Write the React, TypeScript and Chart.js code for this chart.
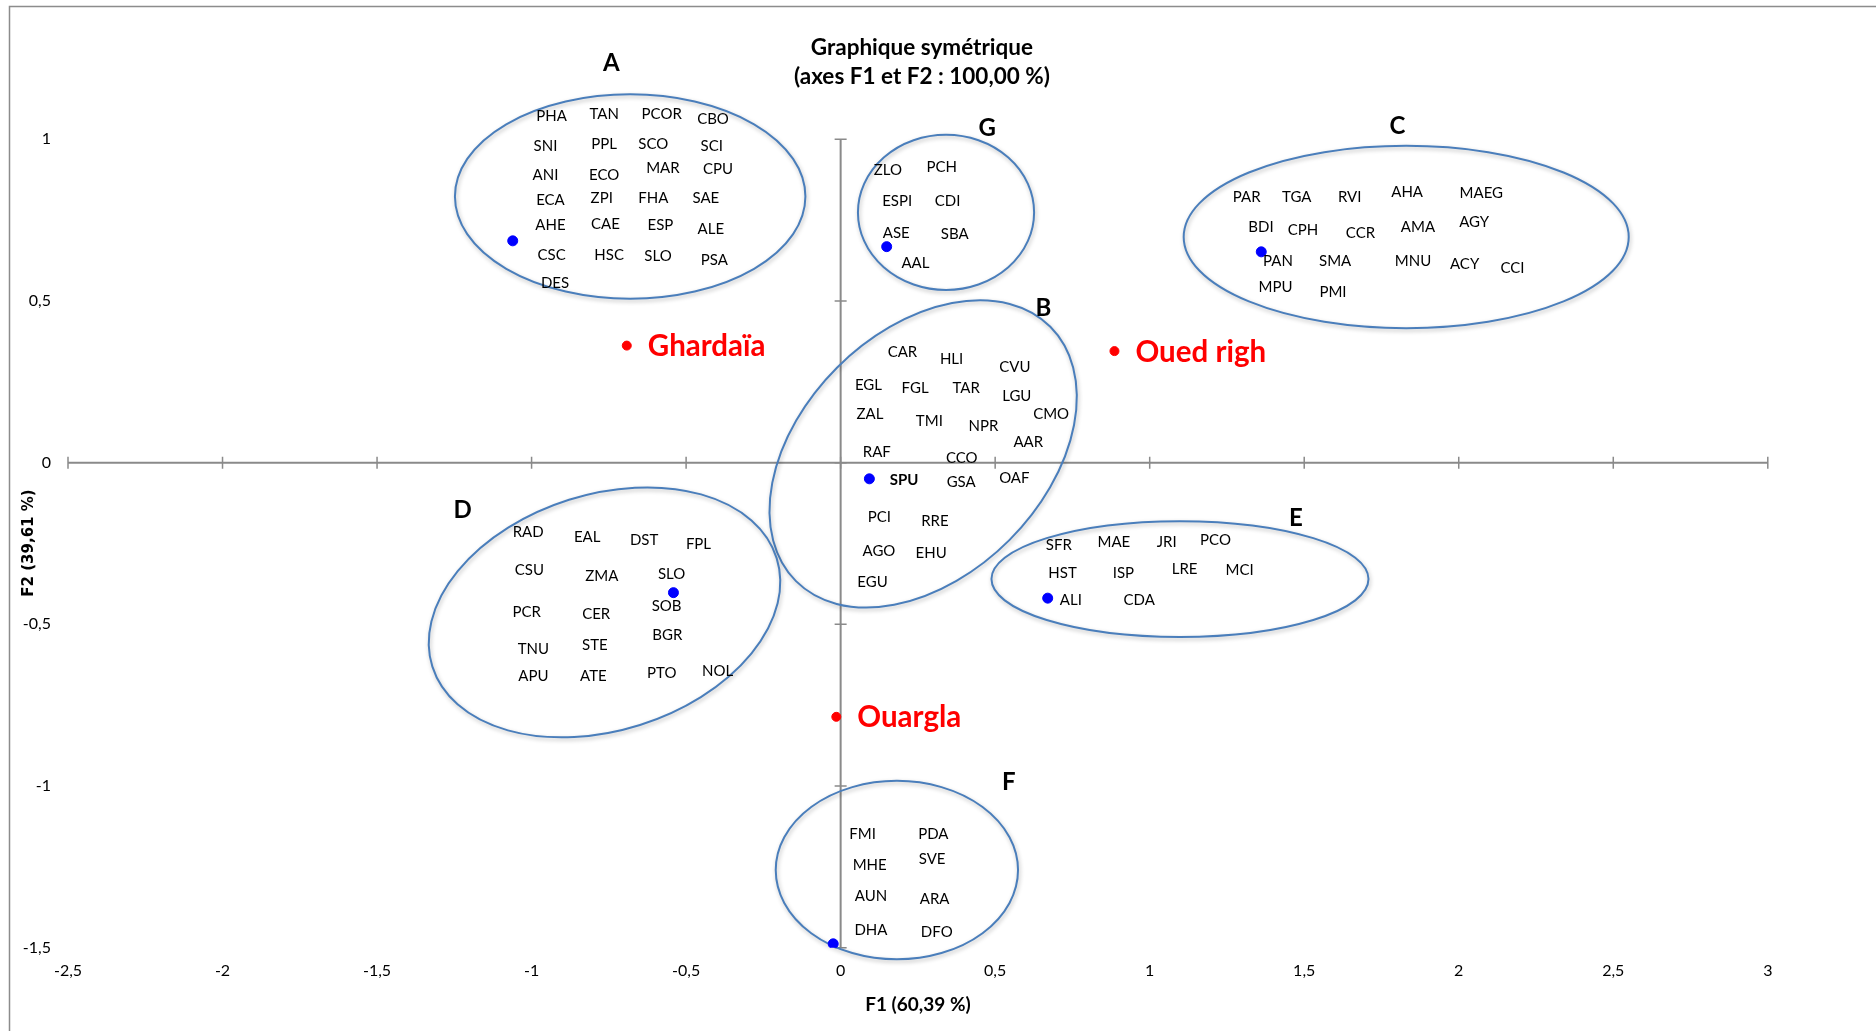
import React, { useEffect, useRef } from "react";
import { Chart, registerables } from "chart.js";

Chart.register(...registerables);

// Species codes with their coordinates on the F1 / F2 plane, one list per group.
type Code = [string, number, number];

const groupA: Code[] = [
  ["PHA", -0.935, 1.072], ["TAN", -0.765, 1.079], ["PCOR", -0.579, 1.079], ["CBO", -0.413, 1.064],
  ["SNI", -0.955, 0.979], ["PPL", -0.765, 0.987], ["SCO", -0.606, 0.987], ["SCI", -0.417, 0.979],
  ["ANI", -0.955, 0.89], ["ECO", -0.765, 0.89], ["MAR", -0.575, 0.913], ["CPU", -0.397, 0.909],
  ["ECA", -0.939, 0.813], ["ZPI", -0.773, 0.82], ["FHA", -0.606, 0.82], ["SAE", -0.436, 0.82],
  ["AHE", -0.939, 0.735], ["CAE", -0.761, 0.739], ["ESP", -0.583, 0.735], ["ALE", -0.42, 0.724],
  ["CSC", -0.935, 0.643], ["HSC", -0.749, 0.643], ["SLO", -0.591, 0.639], ["PSA", -0.409, 0.628],
  ["DES", -0.924, 0.558],
];

const groupB: Code[] = [
  ["CAR", 0.2, 0.345], ["HLI", 0.359, 0.323], ["CVU", 0.564, 0.297],
  ["EGL", 0.09, 0.24], ["FGL", 0.241, 0.233], ["TAR", 0.406, 0.233], ["LGU", 0.57, 0.207],
  ["ZAL", 0.095, 0.153], ["TMI", 0.287, 0.13], ["NPR", 0.462, 0.114], ["CMO", 0.681, 0.153],
  ["AAR", 0.607, 0.065], ["RAF", 0.117, 0.034], ["CCO", 0.392, 0.015],
  ["SPU", 0.205, -0.053], ["GSA", 0.39, -0.059], ["OAF", 0.562, -0.045],
  ["PCI", 0.125, -0.167], ["RRE", 0.305, -0.179],
  ["AGO", 0.124, -0.272], ["EHU", 0.293, -0.277], ["EGU", 0.103, -0.368],
];

const groupC: Code[] = [
  ["PAR", 1.314, 0.824], ["TGA", 1.476, 0.824], ["RVI", 1.647, 0.824], ["AHA", 1.833, 0.839], ["MAEG", 2.073, 0.835],
  ["BDI", 1.36, 0.731], ["CPH", 1.496, 0.72], ["CCR", 1.682, 0.713], ["AMA", 1.868, 0.731], ["AGY", 2.05, 0.746],
  ["PAN", 1.415, 0.624], ["SMA", 1.6, 0.624], ["MNU", 1.852, 0.624], ["ACY", 2.019, 0.617], ["CCI", 2.174, 0.602],
  ["MPU", 1.407, 0.546], ["PMI", 1.593, 0.528],
];

const groupD: Code[] = [
  ["RAD", -1.011, -0.213], ["EAL", -0.82, -0.229], ["DST", -0.636, -0.237], ["FPL", -0.46, -0.251],
  ["CSU", -1.007, -0.332], ["ZMA", -0.773, -0.349], ["SLO", -0.547, -0.343],
  ["PCR", -1.016, -0.461], ["CER", -0.791, -0.468], ["SOB", -0.563, -0.443],
  ["BGR", -0.561, -0.533], ["TNU", -0.994, -0.574], ["STE", -0.795, -0.564],
  ["APU", -0.994, -0.66], ["ATE", -0.8, -0.66], ["PTO", -0.579, -0.649], ["NOL", -0.398, -0.644],
];

const groupE: Code[] = [
  ["SFR", 0.706, -0.253], ["MAE", 0.884, -0.245], ["JRI", 1.055, -0.245], ["PCO", 1.213, -0.238],
  ["HST", 0.718, -0.341], ["ISP", 0.915, -0.341], ["LRE", 1.113, -0.327], ["MCI", 1.291, -0.33],
  ["ALI", 0.745, -0.423], ["CDA", 0.966, -0.423],
];

const groupF: Code[] = [
  ["FMI", 0.071, -1.148], ["PDA", 0.3, -1.148],
  ["MHE", 0.094, -1.244], ["SVE", 0.296, -1.225],
  ["AUN", 0.098, -1.34], ["ARA", 0.304, -1.348],
  ["DHA", 0.098, -1.444], ["DFO", 0.311, -1.451],
];

const groupG: Code[] = [
  ["ZLO", 0.153, 0.905], ["PCH", 0.327, 0.916],
  ["ESPI", 0.183, 0.809], ["CDI", 0.346, 0.809],
  ["ASE", 0.18, 0.713], ["SBA", 0.369, 0.709],
  ["AAL", 0.242, 0.62],
];

const boldCodes = ["SPU"];

// Group letters and where they sit.
const groupLetters = ["A", "B", "C", "D", "E", "F", "G"];
const letterF1 = [-0.742, 0.656, 1.802, -1.223, 1.473, 0.544, 0.474];
const letterF2 = [1.238, 0.481, 1.042, -0.144, -0.168, -0.985, 1.038];

// Group outlines: centre (F1, F2), semi-axes (major in F1 units, minor in F2 units), tilt in degrees.
const outlineF1 = [-0.681, 0.267, 1.83, -0.764, 1.098, 0.182, 0.341];
const outlineF2 = [0.823, 0.027, 0.698, -0.463, -0.36, -1.26, 0.774];
const outlineMajor = [0.567, 0.582, 0.72, 0.584, 0.61, 0.392, 0.285];
const outlineMinor = [0.316, 0.377, 0.282, 0.365, 0.179, 0.276, 0.24];
const outlineTilt = [0, -45, 0, -17.5, 0, 0, 0];

// Relevés (blue) and regions (red).
const sampleF1 = [-1.061, 0.093, 1.361, -0.541, 0.67, -0.024, 0.149];
const sampleF2 = [0.686, -0.05, 0.652, -0.402, -0.419, -1.488, 0.668];

const siteNames = ["Ghardaïa", "Oued righ", "Ouargla"];
const siteF1 = [-0.692, 0.886, -0.014];
const siteF2 = [0.362, 0.345, -0.786];

const titleLines = ["Graphique symétrique", "(axes F1 et F2 : 100,00 %)"];
const xTitle = "F1 (60,39 %)";
const yTitle = "F2 (39,61 %)";

const F1_MIN = -2.5;
const F1_MAX = 3;
const F2_MIN = -1.5;
const F2_MAX = 1;
const STEP = 0.5;

const SANS = 'Lato, "Open Sans", sans-serif';
const AXIS_GREY = "#8a8a8a";

const fmt = (v: number) => String(Math.round(v * 100) / 100).replace(".", ",");

function capText(ctx: CanvasRenderingContext2D, text: string, x: number, y: number, size: number) {
  // centre the capitals vertically on y
  ctx.fillText(text, x, y + size * 0.36);
}

const decorations = {
  id: "decorations",
  beforeDraw(chart: any) {
    const { ctx } = chart;
    ctx.save();
    ctx.strokeStyle = "#8c8c8c";
    ctx.lineWidth = 1.5;
    ctx.beginPath();
    ctx.moveTo(9.5, chart.height);
    ctx.lineTo(9.5, 6.5);
    ctx.lineTo(chart.width, 6.5);
    ctx.stroke();
    ctx.restore();
  },
  beforeDatasetsDraw(chart: any) {
    const { ctx } = chart;
    const xs = chart.scales.x;
    const ys = chart.scales.y;
    const x0 = xs.getPixelForValue(0);
    const y0 = ys.getPixelForValue(0);
    const pxF1 = xs.getPixelForValue(1) - x0;
    const pxF2 = y0 - ys.getPixelForValue(1);

    ctx.save();
    // axes through the origin
    ctx.strokeStyle = AXIS_GREY;
    ctx.lineWidth = 2;
    ctx.beginPath();
    ctx.moveTo(xs.getPixelForValue(F1_MIN), y0);
    ctx.lineTo(xs.getPixelForValue(F1_MAX), y0);
    ctx.moveTo(x0, ys.getPixelForValue(F2_MAX));
    ctx.lineTo(x0, ys.getPixelForValue(F2_MIN));
    ctx.stroke();
    ctx.lineWidth = 1.5;
    ctx.beginPath();
    for (let v = F1_MIN; v <= F1_MAX + 1e-9; v += STEP) {
      const px = xs.getPixelForValue(v);
      ctx.moveTo(px, y0 - 6);
      ctx.lineTo(px, y0 + 6);
    }
    for (let v = F2_MIN; v <= F2_MAX + 1e-9; v += STEP) {
      const py = ys.getPixelForValue(v);
      ctx.moveTo(x0 - 6, py);
      ctx.lineTo(x0 + 6, py);
    }
    ctx.stroke();

    // group outlines
    outlineF1.forEach((cx, i) => {
      ctx.save();
      ctx.translate(xs.getPixelForValue(cx), ys.getPixelForValue(outlineF2[i]));
      ctx.rotate((outlineTilt[i] * Math.PI) / 180);
      ctx.beginPath();
      ctx.ellipse(0, 0, outlineMajor[i] * pxF1, outlineMinor[i] * pxF2, 0, 0, Math.PI * 2);
      ctx.shadowColor = "rgba(0,0,0,0.28)";
      ctx.shadowBlur = 4;
      ctx.shadowOffsetX = 1;
      ctx.shadowOffsetY = 2;
      ctx.strokeStyle = "#4a7ebb";
      ctx.lineWidth = 2;
      ctx.stroke();
      ctx.restore();
    });
    ctx.restore();
  },
  afterDatasetsDraw(chart: any) {
    const { ctx } = chart;
    const xs = chart.scales.x;
    const ys = chart.scales.y;
    ctx.save();
    ctx.textAlign = "center";
    ctx.textBaseline = "alphabetic";

    // species codes
    const codeSize = 15;
    [groupA, groupB, groupC, groupD, groupE, groupF, groupG].forEach((group) => {
      group.forEach(([code, f1, f2]) => {
        ctx.fillStyle = "#000";
        ctx.font = `${boldCodes.includes(code) ? "bold " : ""}${codeSize}px ${SANS}`;
        capText(ctx, code, xs.getPixelForValue(f1), ys.getPixelForValue(f2), codeSize);
      });
    });

    // group letters
    const letterSize = 24;
    ctx.font = `bold ${letterSize}px ${SANS}`;
    groupLetters.forEach((g, i) => {
      capText(ctx, g, xs.getPixelForValue(letterF1[i]), ys.getPixelForValue(letterF2[i]), letterSize);
    });

    // region names
    const siteSize = 29.5;
    ctx.font = `bold ${siteSize}px ${SANS}`;
    ctx.fillStyle = "#ff0000";
    ctx.textAlign = "left";
    siteNames.forEach((name, i) => {
      capText(ctx, name, xs.getPixelForValue(siteF1[i]) + 21, ys.getPixelForValue(siteF2[i]), siteSize);
    });

    // title
    ctx.fillStyle = "#000";
    ctx.textAlign = "center";
    const titleSize = 22.5;
    ctx.font = `bold ${titleSize}px ${SANS}`;
    const tx = (xs.left + xs.right) / 2 + 4;
    capText(ctx, titleLines[0], tx, 47, titleSize);
    capText(ctx, titleLines[1], tx, 76, titleSize);

    // axis titles
    ctx.font = `bold 19px ${SANS}`;
    capText(ctx, xTitle, xs.getPixelForValue(0.25), 1004, 19);
    ctx.save();
    ctx.translate(29, 543);
    ctx.rotate(-Math.PI / 2);
    ctx.font = `bold 15px "DejaVu Sans", sans-serif`;
    ctx.textBaseline = "middle";
    ctx.fillText(yTitle, 0, 0);
    ctx.restore();

    ctx.restore();
  },
};

export default function App() {
  const canvasRef = useRef<HTMLCanvasElement | null>(null);

  useEffect(() => {
    const canvas = canvasRef.current;
    if (!canvas) return;
    const chart = new Chart(canvas, {
      type: "scatter",
      data: {
        datasets: [
          {
            label: "Relevés",
            data: sampleF1.map((v, i) => ({ x: v, y: sampleF2[i] })),
            backgroundColor: "#0000ff",
            borderColor: "#0000ff",
            pointRadius: 5,
            pointHoverRadius: 5,
          },
          {
            label: "Régions",
            data: siteF1.map((v, i) => ({ x: v, y: siteF2[i] })),
            backgroundColor: "#ff0000",
            borderColor: "#ff0000",
            pointRadius: 4.5,
            pointHoverRadius: 4.5,
          },
        ],
      },
      options: {
        animation: false,
        responsive: false,
        devicePixelRatio: 1,
        layout: { padding: { left: 0, top: 139.3, right: 108.2, bottom: 23.3 } },
        plugins: {
          legend: { display: false },
          tooltip: { enabled: false },
          title: { display: false },
        },
        scales: {
          x: {
            type: "linear",
            position: "bottom",
            min: F1_MIN,
            max: F1_MAX,
            grid: { display: false, drawTicks: false },
            border: { display: false },
            ticks: {
              stepSize: STEP,
              padding: 14,
              color: "#000",
              font: { family: SANS, size: 16 },
              callback: (v: any) => fmt(Number(v)),
            },
            afterFit: (s: any) => {
              s.height = 60;
            },
          },
          y: {
            type: "linear",
            position: "left",
            min: F2_MIN,
            max: F2_MAX,
            grid: { display: false, drawTicks: false },
            border: { display: false },
            ticks: {
              stepSize: STEP,
              padding: 17,
              color: "#000",
              font: { family: SANS, size: 16 },
              callback: (v: any) => fmt(Number(v)),
            },
            afterFit: (s: any) => {
              s.width = 68;
            },
          },
        },
      },
      plugins: [decorations],
    });
    return () => chart.destroy();
  }, []);

  return (
    <div style={{ position: "absolute", left: 0, top: 0, width: 1876, height: 1031, background: "#fff" }}>
      <canvas ref={canvasRef} width={1876} height={1031} />
    </div>
  );
}
